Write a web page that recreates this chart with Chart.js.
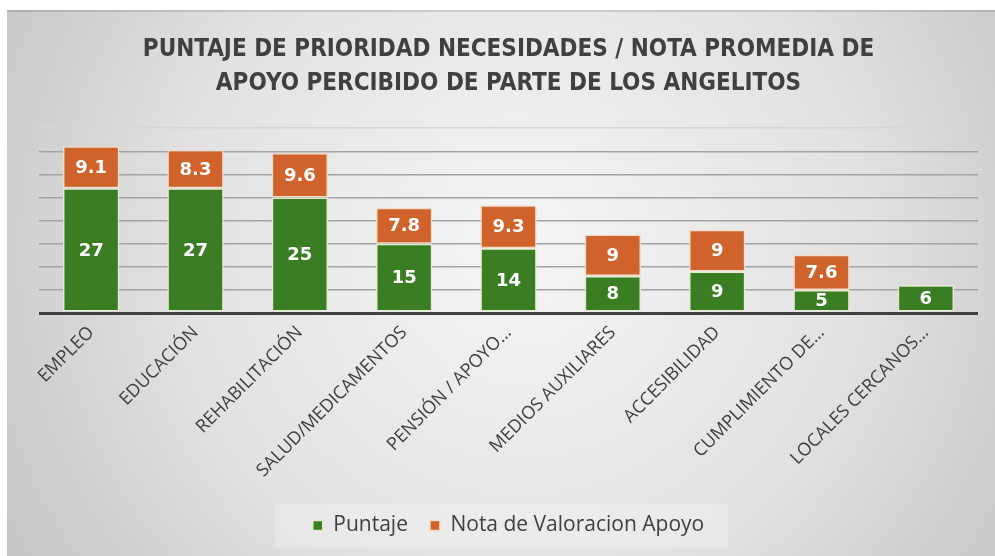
<!DOCTYPE html>
<html>
<head>
<meta charset="utf-8">
<script src="https://cdn.jsdelivr.net/npm/chart.js@4"></script>
<style>
  html, body { margin: 0; padding: 0; background: #ffffff; }
  #wrap { position: relative; width: 995px; height: 556px; }
</style>
</head>
<body>
<div id="wrap"><canvas id="needsChart"></canvas></div>
<script>
const categories = [
    'EMPLEO', 'EDUCACIÓN', 'REHABILITACIÓN', 'SALUD/MEDICAMENTOS', 'PENSIÓN / APOYO…',
    'MEDIOS AUXILIARES', 'ACCESIBILIDAD', 'CUMPLIMIENTO DE…', 'LOCALES CERCANOS…'
];
const puntaje = [27, 27, 25, 15, 14, 8, 9, 5, 6];
const notaApoyo = [9.1, 8.3, 9.6, 7.8, 9.3, 9, 9, 7.6, null];
const titleLines = [
    'PUNTAJE DE PRIORIDAD NECESIDADES / NOTA PROMEDIA DE',
    'APOYO PERCIBIDO DE PARTE DE LOS ANGELITOS'
];

const GREEN = '#3b7d23';
const ORANGE = '#cf632b';
const TEXT = '#404040';

// gradient frame behind the whole chart
const backgroundPlugin = {
    id: 'frameBackground',
    beforeDraw(chart) {
        const ctx = chart.ctx;
        const w = chart.width, h = chart.height;
        ctx.save();
        ctx.fillStyle = '#ffffff';
        ctx.fillRect(0, 0, w, h);
        const g = ctx.createRadialGradient(520, 250, 20, 520, 250, 620);
        g.addColorStop(0, '#f4f4f4');
        g.addColorStop(0.55, '#e1e1e1');
        g.addColorStop(1, '#c2c2c2');
        ctx.fillStyle = g;
        ctx.fillRect(7, 10, w - 7, h - 10);
        ctx.fillStyle = 'rgba(0,0,0,0.12)';
        ctx.fillRect(7, 10, w - 7, 2);
        // legend panel
        const boxes = chart.legend && chart.legend.legendHitBoxes;
        if (boxes && boxes.length) {
            const first = boxes[0], last = boxes[boxes.length - 1];
            const x0 = first.left - 38, x1 = last.left + last.width + 24;
            const yc = first.top + first.height / 2;
            ctx.fillStyle = 'rgba(255,255,255,0.25)';
            ctx.fillRect(x0, yc - 21, x1 - x0, 43);
        }
        ctx.restore();
    }
};

// value labels centred inside each stacked segment
const valueLabelPlugin = {
    id: 'valueLabels',
    afterDatasetsDraw(chart) {
        const ctx = chart.ctx;
        ctx.save();
        ctx.fillStyle = '#ffffff';
        ctx.font = 'bold 18px "DejaVu Sans", sans-serif';
        ctx.textAlign = 'center';
        ctx.textBaseline = 'middle';
        chart.data.datasets.forEach((ds, i) => {
            const meta = chart.getDatasetMeta(i);
            meta.data.forEach((bar, j) => {
                const v = ds.data[j];
                if (v === null || v === undefined) return;
                const y = (bar.y + bar.base) / 2;
                ctx.fillText(String(v), bar.x, y + 1);
            });
        });
        ctx.restore();
    }
};

const data = {
    labels: categories,
    datasets: [{
        label: 'Puntaje',
        data: puntaje,
        backgroundColor: GREEN,
        borderColor: '#e4ecd2',
        borderWidth: 1.5,
        borderSkipped: false
    }, {
        label: 'Nota de Valoracion Apoyo',
        data: notaApoyo,
        backgroundColor: ORANGE,
        borderColor: '#f1dcc8',
        borderWidth: 1.5,
        borderSkipped: false
    }]
};

const config = {
    type: 'bar',
    data: data,
    options: {
        responsive: true,
        maintainAspectRatio: false,
        animation: false,
        devicePixelRatio: 1,
        layout: { padding: { left: 39, right: 17, top: 0, bottom: 10 } },
        datasets: { bar: { barPercentage: 0.54, categoryPercentage: 1.0 } },
        scales: {
            x: {
                stacked: true,
                grid: { display: false },
                border: { display: false },
                ticks: {
                    color: TEXT,
                    font: { family: '"Open Sans", "Noto Sans", sans-serif', size: 18 },
                    minRotation: 45,
                    maxRotation: 45,
                    padding: 1,
                    autoSkip: false
                },
                afterFit(scale) { scale.height = 180; }
            },
            y: {
                stacked: true,
                min: 0,
                max: 40,
                ticks: { display: false, stepSize: 5 },
                border: { display: false },
                grid: {
                    drawTicks: false,
                    color: ctx => ctx.tick.value === 0 ? '#404040' : (ctx.tick.value === 40 ? '#d6d6d6' : '#a3a3a3'),
                    lineWidth: ctx => ctx.tick.value === 0 ? 3 : 1.5
                },
                afterFit(scale) { scale.width = 0; }
            }
        },
        plugins: {
            title: {
                display: true,
                text: titleLines,
                color: TEXT,
                font: { family: '"Liberation Sans Narrow", "DejaVu Sans Condensed", "Roboto Condensed", sans-serif', size: 24, weight: 'bold', lineHeight: 1.42 },
                padding: { top: 33, bottom: 27 }
            },
            legend: {
                position: 'bottom',
                labels: {
                    color: TEXT,
                    font: { family: '"Open Sans", "Noto Sans", sans-serif', size: 21 },
                    boxWidth: 10,
                    boxHeight: 10,
                    padding: 22
                }
            },
            tooltip: { enabled: false }
        }
    },
    plugins: [backgroundPlugin, valueLabelPlugin]
};

new Chart(document.getElementById('needsChart'), config);
</script>
</body>
</html>
